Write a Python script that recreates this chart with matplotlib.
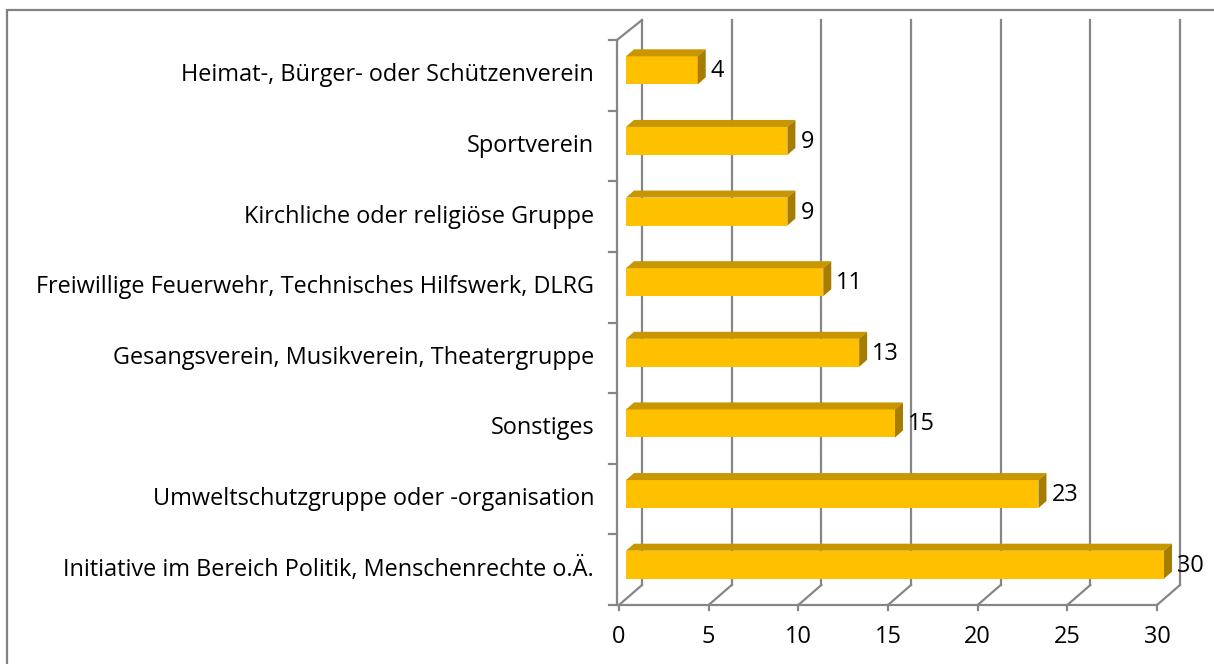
import matplotlib.pyplot as plt
from matplotlib.patches import Polygon, Rectangle

# ---------------------------------------------------------------
#   Mitgliedschaft in Vereinen / Gruppen (3D-Balken im Excel-Stil)
# ---------------------------------------------------------------

categories = [
    'Initiative im Bereich Politik, Menschenrechte o.Ä.',
    'Umweltschutzgruppe oder -organisation',
    'Sonstiges',
    'Gesangsverein, Musikverein, Theatergruppe',
    'Freiwillige Feuerwehr, Technisches Hilfswerk, DLRG',
    'Kirchliche oder religiöse Gruppe',
    'Sportverein',
    'Heimat-, Bürger- oder Schützenverein',
]
values = [30, 23, 15, 13, 11, 9, 9, 4]
x_ticks = [0, 5, 10, 15, 20, 25, 30]

plt.rcParams['font.family'] = ['Open Sans', 'DejaVu Sans']
FS = 16.9

W, H = 1214, 664
fig = plt.figure(figsize=(W / 100, H / 100), dpi=100)
ax = fig.add_axes([619 / W, (H - 605) / H, 538 / W, 565 / H])
ax.set_xlim(0, 30)
ax.set_ylim(0, len(categories))
ax.axis('off')

# pixel -> data helpers
px_x = ax.bbox.width / 30.0
px_y = ax.bbox.height / len(categories)
def dx(p):
    return p / px_x
def dy(p):
    return p / px_y

grid_col = '#868686'
lw = 1.6
depth_x, depth_y = dx(23), dy(20)
n = len(categories)

# back wall gridlines
for t in x_ticks:
    ax.plot([t + depth_x, t + depth_x], [depth_y, n + depth_y], color=grid_col, lw=lw,
            clip_on=False, zorder=1)
    # floor diagonals
    ax.plot([t, t + depth_x], [0, depth_y], color=grid_col, lw=lw, clip_on=False, zorder=1)
    # small ticks under the floor
    ax.plot([t, t], [0, -dy(5)], color=grid_col, lw=lw, clip_on=False, zorder=1)
    ax.text(t, -dy(32), str(t), ha='center', va='center', fontsize=FS)

# front floor line and left wall
ax.plot([0, 30], [0, 0], color=grid_col, lw=lw, clip_on=False, zorder=1)
ax.plot([-dx(2), -dx(2)], [0, n], color=grid_col, lw=lw, clip_on=False, zorder=1)
ax.plot([-dx(2), depth_x], [n, n + depth_y], color=grid_col, lw=lw, clip_on=False, zorder=1)
for i in range(n + 1):
    ax.plot([-dx(10), -dx(2)], [i, i], color=grid_col, lw=lw, clip_on=False, zorder=1)

# bars
front_col = '#FFC000'
top_col = '#C79600'
side_col = '#A67D00'
ox, oy = dx(7), dy(5)
bh = dy(28)
bdx, bdy = dx(8), dy(7)
ys = [i + 0.5 + oy for i in range(n)]
bars = ax.barh(ys, values, left=ox, height=bh, color=front_col, edgecolor='none', zorder=3)
for b in bars:
    b.set_clip_on(False)
for v, yc in zip(values, ys):
    top, bot = yc + bh / 2, yc - bh / 2
    x1 = ox + v
    ax.add_patch(Polygon([(ox, top), (x1, top), (x1 + bdx, top + bdy), (ox + bdx, top + bdy)],
                         closed=True, facecolor=top_col, edgecolor='none', zorder=3, clip_on=False))
    ax.add_patch(Polygon([(x1, bot), (x1 + bdx, bot + bdy), (x1 + bdx, top + bdy), (x1, top)],
                         closed=True, facecolor=side_col, edgecolor='none', zorder=3, clip_on=False))
    ax.text(x1 + bdx + dx(5), yc - dy(1), str(v), ha='left', va='center', fontsize=FS,
            zorder=4)

# category labels
for i, c in enumerate(categories):
    ax.text(-dx(25), i + 0.5, c, ha='right', va='center', fontsize=FS)

# outer chart border
fig.add_artist(Rectangle((7 / W, -0.1), 1.2, (H - 9.5) / H + 0.1, transform=fig.transFigure,
                         fill=False, edgecolor='#808080', lw=1.6))

fig.savefig('out.png', dpi=100)
